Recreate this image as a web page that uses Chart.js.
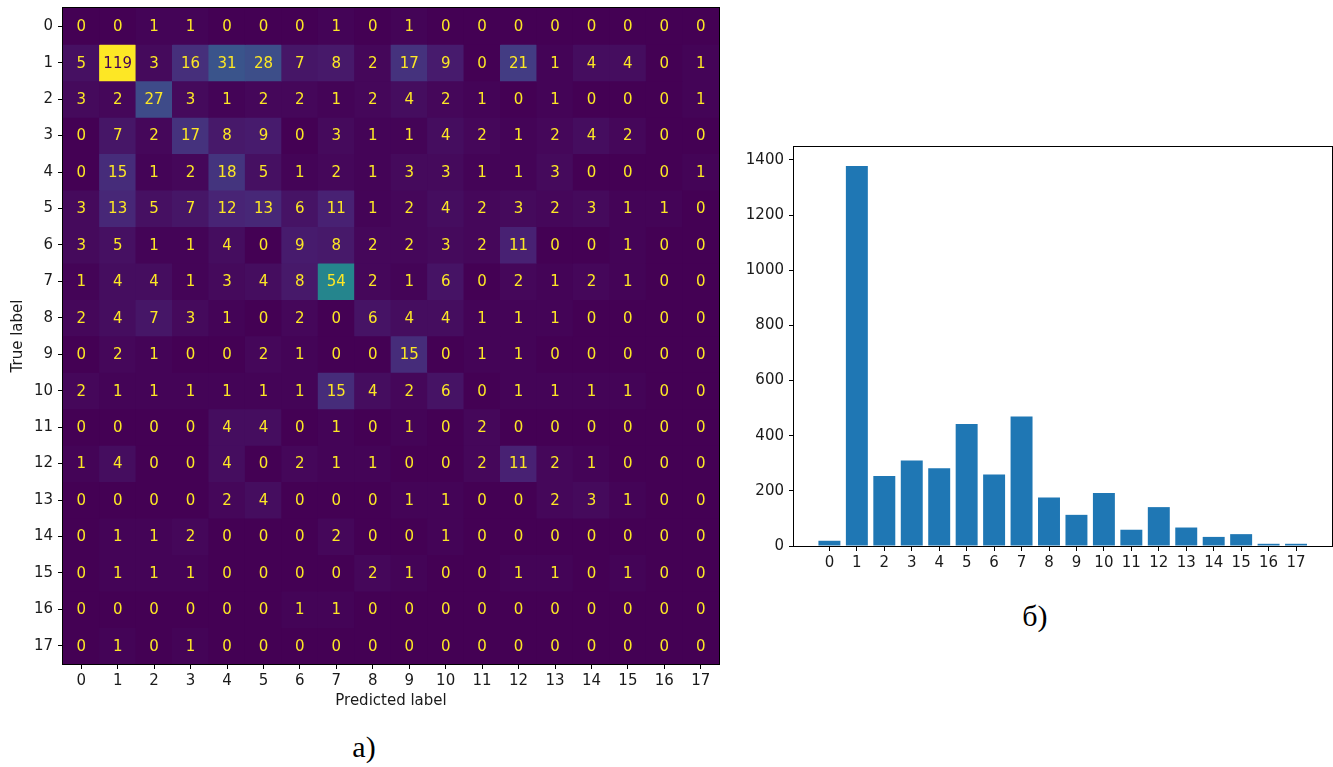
<!DOCTYPE html>
<html>
<head>
<meta charset="utf-8">
<script src="https://cdn.jsdelivr.net/npm/chart.js@4"></script>
<style>
  html, body { margin: 0; padding: 0; background: #fff; width: 1333px; height: 767px; overflow: hidden; position: relative; }
  canvas { position: absolute; }
  .lbl { position: absolute; width: 80px; text-align: center; font-family: 'Liberation Serif', 'DejaVu Serif', serif; font-size: 30px; line-height: 30px; color: #000; }
</style>
</head>
<body>
<canvas id="cm" width="740" height="710" style="left:0;top:0"></canvas>
<canvas id="hist" width="593" height="440" style="left:740px;top:140px"></canvas>
<div class="lbl" style="left:324px;top:732px">а)</div>
<div class="lbl" style="left:995px;top:601px">б)</div>
<script>
// Class labels shared by both panels
const classLabels = ['0', '1', '2', '3', '4', '5', '6', '7', '8', '9', '10', '11', '12', '13', '14', '15', '16', '17'];

// Confusion matrix, one list per true label (columns = predicted label)
const confusion = [
  [0, 0, 1, 1, 0, 0, 0, 1, 0, 1, 0, 0, 0, 0, 0, 0, 0, 0],
  [5, 119, 3, 16, 31, 28, 7, 8, 2, 17, 9, 0, 21, 1, 4, 4, 0, 1],
  [3, 2, 27, 3, 1, 2, 2, 1, 2, 4, 2, 1, 0, 1, 0, 0, 0, 1],
  [0, 7, 2, 17, 8, 9, 0, 3, 1, 1, 4, 2, 1, 2, 4, 2, 0, 0],
  [0, 15, 1, 2, 18, 5, 1, 2, 1, 3, 3, 1, 1, 3, 0, 0, 0, 1],
  [3, 13, 5, 7, 12, 13, 6, 11, 1, 2, 4, 2, 3, 2, 3, 1, 1, 0],
  [3, 5, 1, 1, 4, 0, 9, 8, 2, 2, 3, 2, 11, 0, 0, 1, 0, 0],
  [1, 4, 4, 1, 3, 4, 8, 54, 2, 1, 6, 0, 2, 1, 2, 1, 0, 0],
  [2, 4, 7, 3, 1, 0, 2, 0, 6, 4, 4, 1, 1, 1, 0, 0, 0, 0],
  [0, 2, 1, 0, 0, 2, 1, 0, 0, 15, 0, 1, 1, 0, 0, 0, 0, 0],
  [2, 1, 1, 1, 1, 1, 1, 15, 4, 2, 6, 0, 1, 1, 1, 1, 0, 0],
  [0, 0, 0, 0, 4, 4, 0, 1, 0, 1, 0, 2, 0, 0, 0, 0, 0, 0],
  [1, 4, 0, 0, 4, 0, 2, 1, 1, 0, 0, 2, 11, 2, 1, 0, 0, 0],
  [0, 0, 0, 0, 2, 4, 0, 0, 0, 1, 1, 0, 0, 2, 3, 1, 0, 0],
  [0, 1, 1, 2, 0, 0, 0, 2, 0, 0, 1, 0, 0, 0, 0, 0, 0, 0],
  [0, 1, 1, 1, 0, 0, 0, 0, 2, 1, 0, 0, 1, 1, 0, 1, 0, 0],
  [0, 0, 0, 0, 0, 0, 1, 1, 0, 0, 0, 0, 0, 0, 0, 0, 0, 0],
  [0, 1, 0, 1, 0, 0, 0, 0, 0, 0, 0, 0, 0, 0, 0, 0, 0, 0],
];

// Class counts for the bar chart
const barCounts = [19, 1378, 254, 310, 282, 442, 259, 470, 176, 113, 192, 59, 141, 67, 33, 43, 8, 8];
const barYTicks = [0, 200, 400, 600, 800, 1000, 1200, 1400];
const barXRange = [-1.29, 18.31];
const barYMax = 1447;

const FONT = 'DejaVu Sans';
const TEXT = '#1a1a1a';
Chart.defaults.font.family = FONT;

// viridis, sampled at 0, 0.1, ... 1
const VIRIDIS = ['#440154', '#482475', '#414487', '#355f8d', '#2a788e', '#21918c',
                 '#22a884', '#44bf70', '#7ad151', '#bddf26', '#fde725'];
const hexToRgb = h => [1, 3, 5].map(i => parseInt(h.substr(i, 2), 16));
function viridis(t) {
  t = Math.max(0, Math.min(1, t));
  const s = t * (VIRIDIS.length - 1);
  const i = Math.min(Math.floor(s), VIRIDIS.length - 2);
  const f = s - i;
  const a = hexToRgb(VIRIDIS[i]), b = hexToRgb(VIRIDIS[i + 1]);
  return 'rgb(' + a.map((v, k) => Math.round(v + (b[k] - v) * f)).join(',') + ')';
}

const allVals = confusion.flat();
const vmin = Math.min(...allVals);
const vmax = Math.max(...allVals);
const thresh = (vmin + vmax) / 2;

// plot frame (matplotlib spines)
const frame = {
  id: 'frame',
  afterDraw(chart) {
    const { ctx, chartArea: a } = chart;
    ctx.save();
    ctx.strokeStyle = '#000';
    ctx.lineWidth = 1;
    ctx.strokeRect(Math.round(a.left) - 0.5, Math.round(a.top) - 0.5,
                   Math.round(a.right - a.left) + 1, Math.round(a.bottom - a.top) + 1);
    ctx.restore();
  }
};

// fill behind cells so anti-aliased seams stay dark
const cmBackground = {
  id: 'cmBackground',
  beforeDatasetsDraw(chart) {
    const { ctx, chartArea: a } = chart;
    ctx.save();
    ctx.fillStyle = VIRIDIS[0];
    ctx.fillRect(a.left, a.top, a.right - a.left, a.bottom - a.top);
    ctx.restore();
  }
};

// count written in the middle of each cell
const cellText = {
  id: 'cellText',
  afterDatasetsDraw(chart) {
    const ctx = chart.ctx;
    ctx.save();
    ctx.font = '15px "' + FONT + '"';
    ctx.textAlign = 'center';
    ctx.textBaseline = 'middle';
    chart.data.datasets.forEach((ds, di) => {
      chart.getDatasetMeta(di).data.forEach((el, ci) => {
        const v = ds.counts[ci];
        ctx.fillStyle = v < thresh ? VIRIDIS[VIRIDIS.length - 1] : VIRIDIS[0];
        ctx.fillText(String(v), el.x, (el.y + el.base) / 2 + 1);
      });
    });
    ctx.restore();
  }
};

// keep chart area where the layout padding puts it (ignore label overhang)
const noOverhang = s => { s.paddingTop = 0; s.paddingBottom = 0; s.paddingLeft = 0; s.paddingRight = 0; };

const tickFont = { family: FONT, size: 15 };

// a) confusion matrix: one floating-bar dataset per true-label row
const cmDatasets = confusion.map((row, r) => ({
  label: classLabels[r],
  data: row.map(() => [r - 0.5, r + 0.5]),
  counts: row,
  backgroundColor: row.map(v => viridis((v - vmin) / (vmax - vmin))),
  borderWidth: 0,
  borderSkipped: false,
  barPercentage: 1,
  categoryPercentage: 1,
  grouped: false,
}));

new Chart(document.getElementById('cm'), {
  type: 'bar',
  data: { labels: classLabels, datasets: cmDatasets },
  options: {
    responsive: false,
    animation: false,
    layout: { padding: { left: 0, top: 8, right: 21, bottom: 0 } },
    plugins: { legend: { display: false }, tooltip: { enabled: false } },
    scales: {
      x: {
        type: 'category',
        offset: true,
        grid: { offset: false, drawOnChartArea: false, color: '#000', tickLength: 5 },
        border: { display: false },
        ticks: { color: TEXT, font: tickFont, padding: 3, maxRotation: 0, autoSkip: false },
        title: { display: true, text: 'Predicted label', color: TEXT, font: tickFont, padding: { top: 0, bottom: 0 } },
        afterFit(s) { s.height = 46; noOverhang(s); }
      },
      y: {
        type: 'linear',
        min: -0.5,
        max: 17.5,
        reverse: true,
        afterBuildTicks(s) { s.ticks = classLabels.map(l => ({ value: Number(l) })); },
        grid: { drawOnChartArea: false, color: '#000', tickLength: 5 },
        border: { display: false },
        ticks: { color: TEXT, font: tickFont, padding: 5, callback: v => String(v) },
        title: { display: true, text: 'True label', color: TEXT, font: tickFont, padding: { top: 9.5, bottom: 0 } },
        afterFit(s) { s.width = 63; noOverhang(s); }
      }
    }
  },
  plugins: [cmBackground, cellText, frame]
});

// б) class counts
new Chart(document.getElementById('hist'), {
  type: 'bar',
  data: {
    datasets: [{
      data: barCounts.map((y, i) => ({ x: Number(classLabels[i]), y })),
      backgroundColor: '#1f77b4',
      borderWidth: 0,
      barPercentage: 0.8,
      categoryPercentage: 1,
    }]
  },
  options: {
    responsive: false,
    animation: false,
    layout: { padding: { left: 0, top: 7, right: 1, bottom: 0 } },
    plugins: { legend: { display: false }, tooltip: { enabled: false } },
    scales: {
      x: {
        type: 'linear',
        min: barXRange[0],
        max: barXRange[1],
        offset: false,
        afterBuildTicks(s) { s.ticks = classLabels.map(l => ({ value: Number(l) })); },
        grid: { offset: false, drawOnChartArea: false, color: '#000', tickLength: 5 },
        border: { display: false },
        ticks: { color: TEXT, font: tickFont, padding: 3, maxRotation: 0, autoSkip: false, callback: v => String(v) },
        afterFit(s) { s.height = 34; noOverhang(s); }
      },
      y: {
        type: 'linear',
        min: 0,
        max: barYMax,
        afterBuildTicks(s) { s.ticks = barYTicks.map(value => ({ value })); },
        grid: { drawOnChartArea: false, color: '#000', tickLength: 5 },
        border: { display: false },
        ticks: { color: TEXT, font: tickFont, padding: 5, callback: v => String(v) },
        afterFit(s) { s.width = 54; noOverhang(s); }
      }
    }
  },
  plugins: [frame]
});
</script>
</body>
</html>
